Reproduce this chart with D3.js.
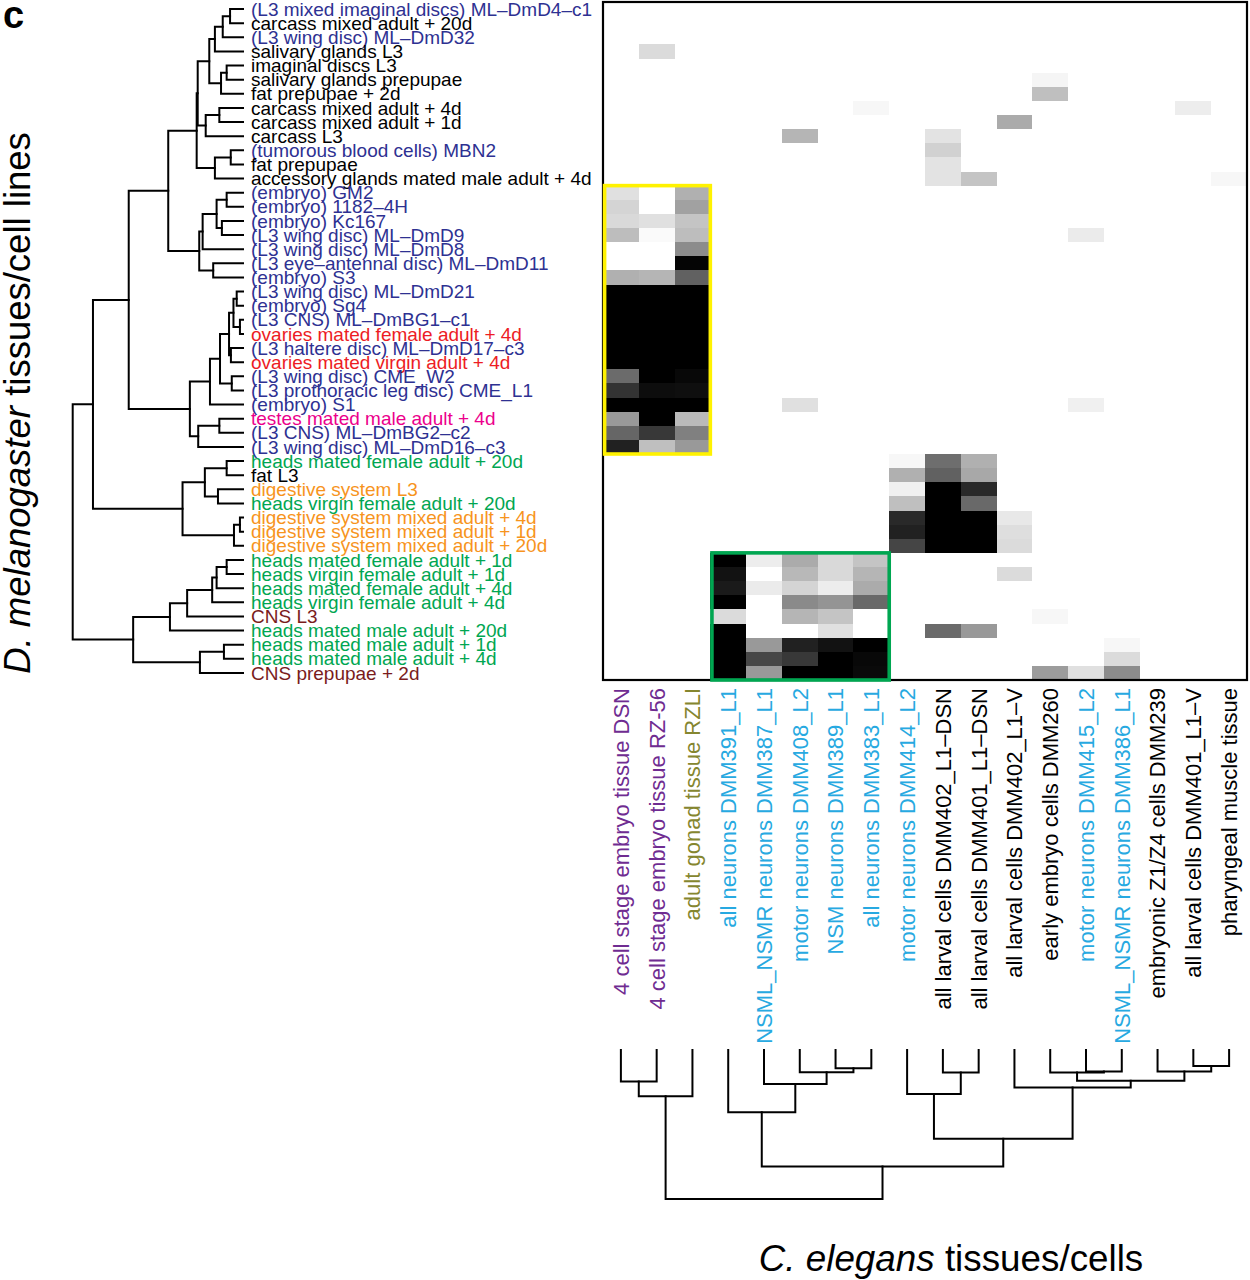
<!DOCTYPE html>
<html><head><meta charset="utf-8">
<script src="https://cdn.jsdelivr.net/npm/d3@7/dist/d3.min.js"></script>
<style>
body{margin:0;background:#fff}
text{font-family:"Liberation Sans",Arial,Helvetica,sans-serif}
</style>
</head><body>
<svg id="chart" width="1250" height="1280"></svg>
<script>
// ---------------- DATA ----------------
const rowLabels = [
"(L3 mixed imaginal discs) ML\u2013DmD4\u2013c1","carcass mixed adult + 20d","(L3 wing disc) ML\u2013DmD32",
"salivary glands L3","imaginal discs L3","salivary glands prepupae","fat prepupae + 2d",
"carcass mixed adult + 4d","carcass mixed adult + 1d","carcass L3","(tumorous blood cells) MBN2",
"fat prepupae","accessory glands mated male adult + 4d","(embryo) GM2","(embryo) 1182\u20134H",
"(embryo) Kc167","(L3 wing disc) ML\u2013DmD9","(L3 wing disc) ML\u2013DmD8",
"(L3 eye\u2013antennal disc) ML\u2013DmD11","(embryo) S3","(L3 wing disc) ML\u2013DmD21","(embryo) Sg4",
"(L3 CNS) ML\u2013DmBG1\u2013c1","ovaries mated female adult + 4d","(L3 haltere disc) ML\u2013DmD17\u2013c3",
"ovaries mated virgin adult + 4d","(L3 wing disc) CME_W2","(L3 prothoracic leg disc) CME_L1",
"(embryo) S1","testes mated male adult + 4d","(L3 CNS) ML\u2013DmBG2\u2013c2","(L3 wing disc) ML\u2013DmD16\u2013c3",
"heads mated female adult + 20d","fat L3","digestive system L3","heads virgin female adult + 20d",
"digestive system mixed adult + 4d","digestive system mixed adult + 1d","digestive system mixed adult + 20d",
"heads mated female adult + 1d","heads virgin female adult + 1d","heads mated female adult + 4d",
"heads virgin female adult + 4d","CNS L3","heads mated male adult + 20d","heads mated male adult + 1d",
"heads mated male adult + 4d","CNS prepupae + 2d"];
const rowGroups = [
"cell","tissue","cell","tissue","tissue","tissue","tissue","tissue","tissue","tissue","cell","tissue","tissue",
"cell","cell","cell","cell","cell","cell","cell","cell","cell","cell","ovary","cell","ovary","cell","cell","cell",
"testis","cell","cell","head","tissue","gut","head","gut","gut","gut","head","head","head","head","cns",
"head","head","head","cns"];
const rowGroupColors = {cell:"#2e3192",tissue:"#000000",ovary:"#ed1c24",testis:"#ec008c",head:"#00a651",gut:"#f7941d",cns:"#7a1c1c"};

const colLabels = [
"4 cell stage embryo tissue DSN","4 cell stage embryo tissue RZ-56","adult gonad tissue RZLI",
"all neurons DMM391_L1","NSML_NSMR neurons DMM387_L1","motor neurons DMM408_L2","NSM neurons DMM389_L1",
"all neurons DMM383_L1","motor neurons DMM414_L2","all larval cells DMM402_L1\u2013DSN",
"all larval cells DMM401_L1\u2013DSN","all larval cells DMM402_L1\u2013V","early embryo cells DMM260",
"motor neurons DMM415_L2","NSML_NSMR neurons DMM386_L1","embryonic Z1/Z4 cells DMM239",
"all larval cells DMM401_L1\u2013V","pharyngeal muscle tissue"];
const colGroups = ["embryo","embryo","gonad","neuron","neuron","neuron","neuron","neuron","neuron",
"other","other","other","other","neuron","neuron","other","other","other"];
const colGroupColors = {embryo:"#6f2c91",gonad:"#85862f",neuron:"#27a9e1",other:"#000000"};

// similarity values (0 = white, 1 = black), rows x columns
const values = [
[0,0,0,0,0,0,0,0,0,0,0,0,0,0,0,0,0,0],
[0,0,0,0,0,0,0,0,0,0,0,0,0,0,0,0,0,0],
[0,0,0,0,0,0,0,0,0,0,0,0,0,0,0,0,0,0],
[0,.14,0,0,0,0,0,0,0,0,0,0,0,0,0,0,0,0],
[0,0,0,0,0,0,0,0,0,0,0,0,0,0,0,0,0,0],
[0,0,0,0,0,0,0,0,0,0,0,0,.04,0,0,0,0,0],
[0,0,0,0,0,0,0,0,0,0,0,0,.25,0,0,0,0,0],
[0,0,0,0,0,0,0,.03,0,0,0,0,0,0,0,0,.07,0],
[0,0,0,0,0,0,0,0,0,0,0,.33,0,0,0,0,0,0],
[0,0,0,0,0,.29,0,0,0,.11,0,0,0,0,0,0,0,0],
[0,0,0,0,0,0,0,0,0,.18,0,0,0,0,0,0,0,0],
[0,0,0,0,0,0,0,0,0,.11,0,0,0,0,0,0,0,0],
[0,0,0,0,0,0,0,0,0,.11,.23,0,0,0,0,0,0,.03],
[.12,0,.31,0,0,0,0,0,0,0,0,0,0,0,0,0,0,0],
[.17,0,.37,0,0,0,0,0,0,0,0,0,0,0,0,0,0,0],
[.15,.12,.23,0,0,0,0,0,0,0,0,0,0,0,0,0,0,0],
[.26,.02,.26,0,0,0,0,0,0,0,0,0,0,.08,0,0,0,0],
[0,0,.45,0,0,0,0,0,0,0,0,0,0,0,0,0,0,0],
[0,0,.98,0,0,0,0,0,0,0,0,0,0,0,0,0,0,0],
[.31,.29,.62,0,0,0,0,0,0,0,0,0,0,0,0,0,0,0],
[1,1,1,0,0,0,0,0,0,0,0,0,0,0,0,0,0,0],
[1,1,1,0,0,0,0,0,0,0,0,0,0,0,0,0,0,0],
[1,1,1,0,0,0,0,0,0,0,0,0,0,0,0,0,0,0],
[1,1,1,0,0,0,0,0,0,0,0,0,0,0,0,0,0,0],
[1,1,1,0,0,0,0,0,0,0,0,0,0,0,0,0,0,0],
[1,1,1,0,0,0,0,0,0,0,0,0,0,0,0,0,0,0],
[.58,1,.97,0,0,0,0,0,0,0,0,0,0,0,0,0,0,0],
[.8,.95,.94,0,0,0,0,0,0,0,0,0,0,0,0,0,0,0],
[1,1,1,0,0,.12,0,0,0,0,0,0,0,.06,0,0,0,0],
[.4,1,.27,0,0,0,0,0,0,0,0,0,0,0,0,0,0,0],
[.6,.78,.5,0,0,0,0,0,0,0,0,0,0,0,0,0,0,0],
[.87,.25,.4,0,0,0,0,0,0,0,0,0,0,0,0,0,0,0],
[0,0,0,0,0,0,0,0,.03,.57,.31,0,0,0,0,0,0,0],
[0,0,0,0,0,0,0,0,.31,.62,.34,0,0,0,0,0,0,0],
[0,0,0,0,0,0,0,0,.06,1,.84,0,0,0,0,0,0,0],
[0,0,0,0,0,0,0,0,.25,1,.59,0,0,0,0,0,0,0],
[0,0,0,0,0,0,0,0,.84,1,1,.09,0,0,0,0,0,0],
[0,0,0,0,0,0,0,0,.87,1,1,.13,0,0,0,0,0,0],
[0,0,0,0,0,0,0,0,.73,1,1,.14,0,0,0,0,0,0],
[0,0,0,1,.07,.33,.15,.23,0,0,0,0,0,0,0,0,0,0],
[0,0,0,.93,0,.28,.15,.29,0,0,0,.14,0,0,0,0,0,0],
[0,0,0,.9,.08,.17,.07,.33,0,0,0,0,0,0,0,0,0,0],
[0,0,0,1,0,.46,.42,.59,0,0,0,0,0,0,0,0,0,0],
[0,0,0,.14,0,.29,.23,0,0,0,0,0,.03,0,0,0,0,0],
[0,0,0,1,0,0,.12,0,0,.58,.4,0,0,0,0,0,0,0],
[0,0,0,1,.4,.87,.93,1,0,0,0,0,0,0,.03,0,0,0],
[0,0,0,1,.72,.78,1,.97,0,0,0,0,0,0,.14,0,0,0],
[0,0,0,1,.4,1,1,.96,0,0,0,0,.39,.12,.45,0,0,0]];

// highlighted blocks (row/column index ranges)
const boxes = [
 {r0:13, r1:31, c0:0, c1:2, color:"#fff200"},
 {r0:39, r1:47, c0:3, c1:7, color:"#00a651"}];

// dendrograms: [mergeHeight, left, right]; numbers are leaf indices
const rowTree =
[1.0,
  [0.881,
    [0.671,
      [0.439,
        [0.272,
          [0.266,
            [0.198,
              [0.165,[0.119,[0.076,0,1],2],3],
              [0.129,[0.096,4,5],6]],
            [0.219,[0.139,7,8],9]],
          [0.165,[0.072,10,11],12]],
        [0.257,
          [0.237,[0.155,[0.096,13,14],[0.124,15,16]],17],
          [0.175,18,19]]],
      [0.312,
        [0.194,[0.135,[0.082,[0.056,[0.037,20,21],[0.018,22,23]],[0.071,24,25]],[0.066,26,27]],28],
        [0.263,[0.139,29,30],31]]],
    [0.355,
      [0.224,[0.096,32,33],[0.147,34,35]],
      [0.053,[0.018,36,37],38]]],
  [0.645,
    [0.429,[0.328,[0.181,[0.155,[0.096,39,40],41],42],43],44],
    [0.253,[0.112,45,46],47]]];

const colTree =
[1.0,
  [0.311,[0.211,0,1],2],
  [0.782,
    [0.418,3,[0.229,4,[0.149,5,[0.122,6,7]]]],
    [0.595,
      [0.295,8,[0.151,9,10]],
      [0.251,11,[0.207,[0.151,12,[0.145,13,14]],[0.145,15,[0.107,16,17]]]]]]];

// ---------------- DRAW ----------------
const svg = d3.select("#chart");

const x = d3.scaleBand().domain(d3.range(colLabels.length)).range([603, 1247]);
const y = d3.scaleBand().domain(d3.range(rowLabels.length)).range([2, 680]);
const grey = d3.scaleLinear().domain([0, 1]).range(["#ffffff", "#000000"]);

// heatmap cells
const cells = [];
values.forEach((row, r) => row.forEach((v, c) => cells.push({r, c, v})));
svg.append("g").selectAll("rect").data(cells).join("rect")
  .attr("x", d => x(d.c)).attr("y", d => y(d.r))
  .attr("width", x.bandwidth() + 0.5).attr("height", y.bandwidth() + 0.5)
  .attr("fill", d => grey(d.v)).attr("shape-rendering", "crispEdges");

// frame
svg.append("rect").attr("x", x.range()[0]).attr("y", y.range()[0])
  .attr("width", x.range()[1] - x.range()[0]).attr("height", y.range()[1] - y.range()[0])
  .attr("fill", "none").attr("stroke", "#000").attr("stroke-width", 2.2);

// highlight boxes
svg.append("g").selectAll("rect").data(boxes).join("rect")
  .attr("x", d => x(d.c0) + 1.6)
  .attr("y", d => y(d.r0))
  .attr("width", d => x(d.c1) + x.bandwidth() - x(d.c0) - 1.6)
  .attr("height", d => y(d.r1) + y.bandwidth() - y(d.r0))
  .attr("fill", "none").attr("stroke", d => d.color).attr("stroke-width", 3.6);

// row labels
svg.append("g").selectAll("text").data(rowLabels).join("text")
  .attr("x", 251).attr("y", (d, i) => y(i) + y.bandwidth() / 2)
  .attr("dy", "0.35em")
  .style("font-size", "19px")
  .attr("fill", (d, i) => rowGroupColors[rowGroups[i]])
  .text(d => d);

// column labels
svg.append("g").selectAll("text").data(colLabels).join("text")
  .attr("transform", (d, i) => `translate(${x(i) + x.bandwidth() / 2},688) rotate(-90)`)
  .attr("text-anchor", "end").attr("dy", "0.36em")
  .style("font-size", "22px")
  .attr("fill", (d, i) => colGroupColors[colGroups[i]])
  .text(d => d);

// dendrogram helper
function toNode(t) {
  return Array.isArray(t) ? {h: t[0], children: [toNode(t[1]), toNode(t[2])]} : {h: 0, leaf: t};
}
function drawDendro(tree, leafPos, hScale, horizontal) {
  const root = d3.hierarchy(toNode(tree));
  root.eachAfter(n => {
    n.pos = n.children ? d3.mean(n.children, c => c.pos) : leafPos(n.data.leaf);
  });
  const paths = [];
  root.each(n => {
    if (!n.children) return;
    const [a, b] = n.children;
    const h = hScale(n.data.h), ha = hScale(a.data.h), hb = hScale(b.data.h);
    if (horizontal) {
      paths.push(`M${ha},${a.pos}H${h}V${b.pos}H${hb}`);
    } else {
      paths.push(`M${a.pos},${ha}V${h}H${b.pos}V${hb}`);
    }
  });
  svg.append("g").selectAll("path").data(paths).join("path")
    .attr("d", d => d).attr("fill", "none").attr("stroke", "#000")
    .attr("stroke-width", 2).attr("stroke-linejoin", "miter").attr("stroke-linecap", "square");
}
const rowH = d3.scaleLinear().domain([0, 1]).range([243, 72.7]);
drawDendro(rowTree, i => y(i) + y.bandwidth() / 2, rowH, true);
const colH = d3.scaleLinear().domain([0, 1]).range([1050, 1199]);
drawDendro(colTree, i => x(i) + x.bandwidth() / 2, colH, false);

// axis titles
const yt = svg.append("text")
  .attr("transform", "translate(30,403) rotate(-90)")
  .attr("text-anchor", "middle").style("font-size", "36.5px").attr("fill", "#000");
yt.append("tspan").style("font-style", "italic").text("D. melanogaster");
yt.append("tspan").text(" tissues/cell lines");

const xt = svg.append("text")
  .attr("x", 951).attr("y", 1271)
  .attr("text-anchor", "middle").style("font-size", "36.8px").attr("fill", "#000");
xt.append("tspan").style("font-style", "italic").text("C. elegans");
xt.append("tspan").text(" tissues/cells");

svg.append("text").attr("x", 3).attr("y", 28)
  .style("font-size", "38px").style("font-weight", "bold").text("c");
</script>
</body></html>
